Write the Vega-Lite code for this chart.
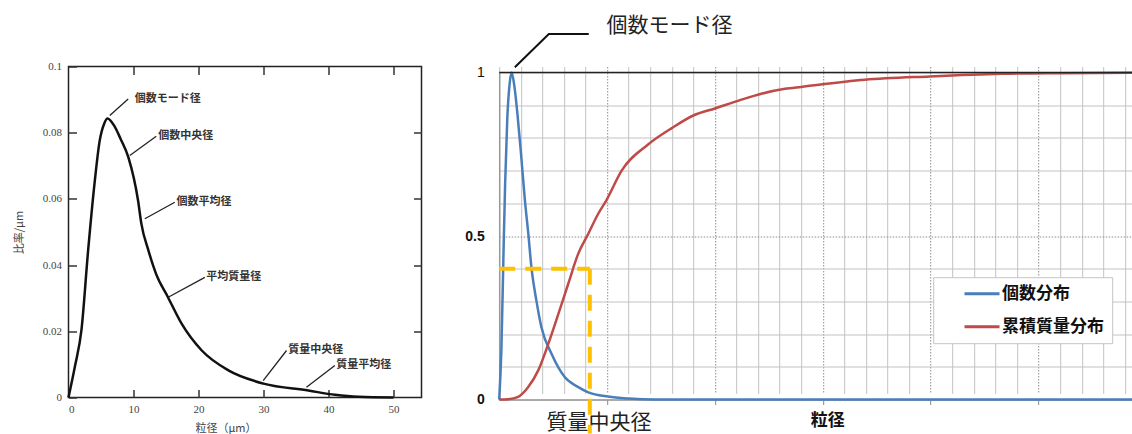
{
  "$schema": "https://vega.github.io/schema/vega-lite/v6.json",
  "autosize": {"type": "pad"},
  "padding": {"left": 12.5, "top": 14.5, "right": 0, "bottom": 0},
  "background": "white",
  "bounds": "flush",
  "spacing": 77.7,
  "config": {"font": "Noto Sans CJK JP"},
  "datasets": {
    "leftCurve": [
      {"d": 0, "r": 0}, {"d": 1, "r": 0.0095}, {"d": 2, "r": 0.0205}, {"d": 3, "r": 0.044},
      {"d": 4, "r": 0.0646}, {"d": 4.8, "r": 0.0776}, {"d": 5.5, "r": 0.0828}, {"d": 6, "r": 0.0843},
      {"d": 7, "r": 0.0822}, {"d": 8, "r": 0.0782}, {"d": 9.2, "r": 0.0726}, {"d": 10.7, "r": 0.0595},
      {"d": 11.2, "r": 0.0526}, {"d": 12.3, "r": 0.0444}, {"d": 13.5, "r": 0.0372}, {"d": 15.3, "r": 0.0303},
      {"d": 17.4, "r": 0.0223}, {"d": 20.5, "r": 0.0142}, {"d": 24.6, "r": 0.0082}, {"d": 30, "r": 0.0042},
      {"d": 36.9, "r": 0.0021}, {"d": 41, "r": 0.0008}, {"d": 44.6, "r": 0.0002}, {"d": 50, "r": 0}
    ],
    "leftNotes": [
      {"label": "個数モード径", "x": 10.2, "y": 0.0902, "lx": 9.18, "ly": 0.0902, "lx2": 6.35, "ly2": 0.0852},
      {"label": "個数中央径", "x": 13.8, "y": 0.0789, "lx": 13.5, "ly": 0.0789, "lx2": 9.43, "ly2": 0.0731},
      {"label": "個数平均径", "x": 16.6, "y": 0.059, "lx": 16.35, "ly": 0.059, "lx2": 11.74, "ly2": 0.054},
      {"label": "平均質量径", "x": 21.2, "y": 0.0363, "lx": 20.97, "ly": 0.0363, "lx2": 15.34, "ly2": 0.0303},
      {"label": "質量中央径", "x": 33.8, "y": 0.0144, "lx": 33.54, "ly": 0.0142, "lx2": 29.95, "ly2": 0.0051},
      {"label": "質量平均径", "x": 41.2, "y": 0.0097, "lx": 40.97, "ly": 0.0097, "lx2": 36.6, "ly2": 0.0031}
    ],
    "rightCurves": [
      {"series": "個数分布", "d": 0, "v": 0}, {"series": "個数分布", "d": 0.2, "v": 0.15},
      {"series": "個数分布", "d": 0.4, "v": 0.45}, {"series": "個数分布", "d": 0.55, "v": 0.66},
      {"series": "個数分布", "d": 0.75, "v": 0.86}, {"series": "個数分布", "d": 0.95, "v": 0.96},
      {"series": "個数分布", "d": 1.15, "v": 1.0}, {"series": "個数分布", "d": 1.4, "v": 0.96},
      {"series": "個数分布", "d": 1.7, "v": 0.87}, {"series": "個数分布", "d": 2.0, "v": 0.76},
      {"series": "個数分布", "d": 2.38, "v": 0.61}, {"series": "個数分布", "d": 2.69, "v": 0.51},
      {"series": "個数分布", "d": 3.0, "v": 0.4}, {"series": "個数分布", "d": 3.46, "v": 0.3},
      {"series": "個数分布", "d": 3.92, "v": 0.22}, {"series": "個数分布", "d": 4.85, "v": 0.14},
      {"series": "個数分布", "d": 6.09, "v": 0.068}, {"series": "個数分布", "d": 7.33, "v": 0.038},
      {"series": "個数分布", "d": 8.26, "v": 0.022}, {"series": "個数分布", "d": 10.1, "v": 0.009},
      {"series": "個数分布", "d": 12, "v": 0.003}, {"series": "個数分布", "d": 14.4, "v": 0},
      {"series": "個数分布", "d": 20, "v": 0}, {"series": "個数分布", "d": 30, "v": 0},
      {"series": "個数分布", "d": 40, "v": 0}, {"series": "個数分布", "d": 50, "v": 0},
      {"series": "個数分布", "d": 58.8, "v": 0},
      {"series": "累積質量分布", "d": 0, "v": 0}, {"series": "累積質量分布", "d": 0.83, "v": 0.001},
      {"series": "累積質量分布", "d": 1.76, "v": 0.008}, {"series": "累積質量分布", "d": 2.69, "v": 0.038},
      {"series": "累積質量分布", "d": 3.62, "v": 0.089}, {"series": "累積質量分布", "d": 4.55, "v": 0.17},
      {"series": "累積質量分布", "d": 5.47, "v": 0.26}, {"series": "累積質量分布", "d": 6.4, "v": 0.354},
      {"series": "累積質量分布", "d": 7.33, "v": 0.446}, {"series": "累積質量分布", "d": 8.26, "v": 0.507},
      {"series": "累積質量分布", "d": 9.18, "v": 0.568}, {"series": "累積質量分布", "d": 9.95, "v": 0.61},
      {"series": "累積質量分布", "d": 11.35, "v": 0.7}, {"series": "累積質量分布", "d": 13.8, "v": 0.78},
      {"series": "累積質量分布", "d": 16, "v": 0.83}, {"series": "累積質量分布", "d": 18.1, "v": 0.87},
      {"series": "累積質量分布", "d": 20, "v": 0.89}, {"series": "累積質量分布", "d": 22.2, "v": 0.914},
      {"series": "累積質量分布", "d": 24.3, "v": 0.935}, {"series": "累積質量分布", "d": 26.5, "v": 0.95},
      {"series": "累積質量分布", "d": 28, "v": 0.956}, {"series": "累積質量分布", "d": 33.9, "v": 0.978},
      {"series": "累積質量分布", "d": 39.9, "v": 0.988}, {"series": "累積質量分布", "d": 46.6, "v": 0.996},
      {"series": "累積質量分布", "d": 52, "v": 0.998}, {"series": "累積質量分布", "d": 58.8, "v": 0.999}
    ],
    "medianGuide": [
      {"x": 0, "x2": 8.4, "y": 0.4, "y2": 0.4},
      {"x": 8.4, "x2": 8.4, "y": 0.4, "y2": -0.104}
    ],
    "modeLeader": [
      {"i": 0, "x": 1.45, "y": 1.016},
      {"i": 1, "x": 4.6, "y": 1.118},
      {"i": 2, "x": 8.3, "y": 1.118}
    ],
    "topNote": [{"label": "個数モード径", "x": 9.95, "y": 1.1437}],
    "bottomNote": [{"label": "質量中央径", "x": 9.25, "y": -0.0725}],
    "frameTop": [{"v": 1}]
  },
  "hconcat": [
    {
      "width": 353,
      "height": 331,
      "view": {"stroke": "#222", "strokeWidth": 1.5},
      "layer": [
        {
          "data": {"name": "leftCurve"},
          "mark": {"type": "line", "color": "#111", "strokeWidth": 2.5, "interpolate": "monotone"},
          "encoding": {
            "x": {
              "field": "d", "type": "quantitative",
              "scale": {"domain": [0, 54.3], "nice": false, "zero": false},
              "axis": {
                "orient": "bottom", "values": [0, 10, 20, 30, 40, 50], "domain": false, "grid": false,
                "tickSize": -8, "tickColor": "#333", "tickWidth": 1.5, "labelPadding": 14,
                "labelFont": "Liberation Serif", "labelFontSize": 11, "labelColor": "#444",
                "title": "粒径（μm）", "titleFont": "Noto Sans CJK JP", "titleFontSize": 11,
                "titleFontWeight": "normal", "titleColor": "#444", "titleX": 157, "titleY": 31,
                "titleBaseline": "middle", "titleAlign": "center"
              }
            },
            "y": {
              "field": "r", "type": "quantitative",
              "scale": {"domain": [0, 0.1], "nice": false},
              "axis": {
                "orient": "left", "values": [0, 0.02, 0.04, 0.06, 0.08, 0.1], "format": "~g",
                "domain": false, "grid": false, "tickSize": -8, "tickColor": "#333", "tickWidth": 1.5,
                "labelPadding": 15, "labelFont": "Liberation Serif", "labelFontSize": 11, "labelColor": "#444",
                "title": "比率/μm", "titleFont": "Noto Sans CJK JP", "titleFontSize": 11,
                "titleFontWeight": "normal", "titleColor": "#444", "titleX": -49, "titleBaseline": "middle"
              }
            }
          }
        },
        {
          "data": {"name": "leftNotes"},
          "mark": {"type": "text", "align": "left", "baseline": "middle", "font": "Noto Sans CJK JP", "fontSize": 11, "fontWeight": "bold", "color": "#333"},
          "encoding": {
            "x": {
              "field": "x", "type": "quantitative",
              "scale": {"domain": [0, 54.3], "nice": false, "zero": false},
              "axis": {"orient": "top", "values": [10, 20, 30, 40, 50], "labels": false, "domain": false, "grid": false, "tickSize": -8, "tickColor": "#333", "tickWidth": 1.5, "title": null}
            },
            "y": {
              "field": "y", "type": "quantitative",
              "scale": {"domain": [0, 0.1], "nice": false},
              "axis": {"orient": "right", "values": [0.02, 0.04, 0.06, 0.08], "labels": false, "domain": false, "grid": false, "tickSize": -8, "tickColor": "#333", "tickWidth": 1.5, "title": null}
            },
            "text": {"field": "label"}
          }
        },
        {
          "data": {"name": "leftNotes"},
          "mark": {"type": "rule", "color": "#222", "strokeWidth": 1.3},
          "encoding": {
            "x": {"field": "lx", "type": "quantitative", "scale": {"domain": [0, 54.3], "nice": false, "zero": false}, "axis": null},
            "x2": {"field": "lx2"},
            "y": {"field": "ly", "type": "quantitative", "scale": {"domain": [0, 0.1], "nice": false}, "axis": null},
            "y2": {"field": "ly2"}
          }
        }
      ],
      "resolve": {"axis": {"x": "independent", "y": "independent"}}
    },
    {
      "width": 634.3,
      "height": 333,
      "view": {"stroke": null},
      "layer": [
        {
          "data": {"name": "rightCurves"},
          "mark": {"type": "line", "strokeWidth": 2.5, "interpolate": "monotone", "clip": false},
          "encoding": {
            "x": {
              "field": "d", "type": "quantitative",
              "scale": {"domain": [0, 58.8], "nice": false, "zero": false},
              "axis": {
                "values": [0, 2, 4, 6, 8, 10, 12, 14, 16, 18, 20, 22, 24, 26, 28, 30, 32, 34, 36, 38, 40, 42, 44, 46, 48, 50, 52, 54, 56, 58],
                "grid": true,
                "gridColor": {"condition": {"test": "datum.value % 10 === 0 && datum.value > 0", "value": "#8c8c8c"}, "value": "#c2c2c2"},
                "gridDash": {"condition": {"test": "datum.value % 10 === 0 && datum.value > 0", "value": [1.5, 1.5]}, "value": []},
                "gridWidth": 1,
                "labels": false,
                "ticks": true, "tickSize": 5, "tickColor": "#888",
                "tickOpacity": {"condition": {"test": "datum.value % 10 === 0 && datum.value > 0", "value": 1}, "value": 0},
                "domain": true, "domainColor": "#999", "domainWidth": 1.5,
                "title": "粒径", "titleX": 328, "titleY": 21, "titleFont": "Noto Sans CJK JP",
                "titleFontSize": 17, "titleFontWeight": "bold", "titleBaseline": "middle", "titleAlign": "center", "titleColor": "#111"
              }
            },
            "y": {
              "field": "v", "type": "quantitative",
              "scale": {"domain": [0, 1], "nice": false, "range": [333, 6]},
              "axis": {
                "values": [0, 0.1, 0.2, 0.3, 0.4, 0.5, 0.6, 0.7, 0.8, 0.9, 1],
                "format": "~g",
                "labelExpr": "datum.value === 0 || datum.value === 0.5 || datum.value === 1 ? datum.label : ''",
                "grid": true,
                "gridColor": {"condition": {"test": "datum.value === 0.5", "value": "#8c8c8c"}, "value": "#c2c2c2"},
                "gridDash": {"condition": {"test": "datum.value === 0.5", "value": [1.5, 1.5]}, "value": []},
                "ticks": false,
                "domain": true, "domainColor": "#999", "domainWidth": 1.5,
                "labelPadding": 15, "labelFont": "Liberation Sans", "labelFontSize": 14, "labelColor": "#111",
                "labelFontWeight": {"condition": {"test": "datum.value === 1", "value": "normal"}, "value": "bold"},
                "title": null
              }
            },
            "color": {
              "field": "series", "type": "nominal",
              "scale": {"domain": ["個数分布", "累積質量分布"], "range": ["#4a7ebb", "#be4b48"]},
              "legend": {
                "orient": "none", "legendX": 864.7, "legendY": 210.7, "title": null,
                "symbolType": "stroke", "symbolSize": 1225, "symbolStrokeWidth": 3,
                "clipHeight": 17, "symbolOffset": 21.8, "labelOffset": 1, "labelAlign": "left",
                "labelFont": "Noto Sans CJK JP", "labelFontSize": 17, "labelFontWeight": "bold", "labelColor": "#111",
                "labelLimit": 300, "fillColor": "white", "strokeColor": "#c4c4c4",
                "padding": 8, "rowPadding": 15
              }
            }
          }
        },
        {
          "data": {"name": "frameTop"},
          "mark": {"type": "rule", "color": "#222", "strokeWidth": 1.5},
          "encoding": {
            "y": {"field": "v", "type": "quantitative", "scale": {"domain": [0, 1], "nice": false, "range": [333, 6]}, "axis": null}
          }
        },
        {
          "data": {"name": "modeLeader"},
          "mark": {"type": "line", "color": "#111", "strokeWidth": 2, "clip": false},
          "encoding": {
            "x": {"field": "x", "type": "quantitative", "scale": {"domain": [0, 58.8], "nice": false, "zero": false}, "axis": null},
            "y": {"field": "y", "type": "quantitative", "scale": {"domain": [0, 1], "nice": false, "range": [333, 6]}, "axis": null},
            "order": {"field": "i"}
          }
        },
        {
          "data": {"name": "topNote"},
          "mark": {"type": "text", "align": "left", "baseline": "middle", "font": "Noto Sans CJK JP", "fontSize": 21, "color": "#222", "clip": false},
          "encoding": {
            "x": {"field": "x", "type": "quantitative", "scale": {"domain": [0, 58.8], "nice": false, "zero": false}, "axis": null},
            "y": {"field": "y", "type": "quantitative", "scale": {"domain": [0, 1], "nice": false, "range": [333, 6]}, "axis": null},
            "text": {"field": "label"}
          }
        },
        {
          "data": {"name": "bottomNote"},
          "mark": {"type": "text", "align": "center", "baseline": "middle", "font": "Noto Sans CJK JP", "fontSize": 21, "color": "#222", "clip": false},
          "encoding": {
            "x": {"field": "x", "type": "quantitative", "scale": {"domain": [0, 58.8], "nice": false, "zero": false}, "axis": null},
            "y": {"field": "y", "type": "quantitative", "scale": {"domain": [0, 1], "nice": false, "range": [333, 6]}, "axis": null},
            "text": {"field": "label"}
          }
        },
        {
          "data": {"name": "medianGuide"},
          "mark": {"type": "rule", "color": "#FFC000", "strokeWidth": 4, "strokeDash": [16, 10], "clip": false},
          "encoding": {
            "x": {"field": "x", "type": "quantitative", "scale": {"domain": [0, 58.8], "nice": false, "zero": false}, "axis": null},
            "x2": {"field": "x2"},
            "y": {"field": "y", "type": "quantitative", "scale": {"domain": [0, 1], "nice": false, "range": [333, 6]}, "axis": null},
            "y2": {"field": "y2"}
          }
        }
      ],
      "resolve": {"axis": {"x": "independent", "y": "independent"}}
    }
  ]
}
